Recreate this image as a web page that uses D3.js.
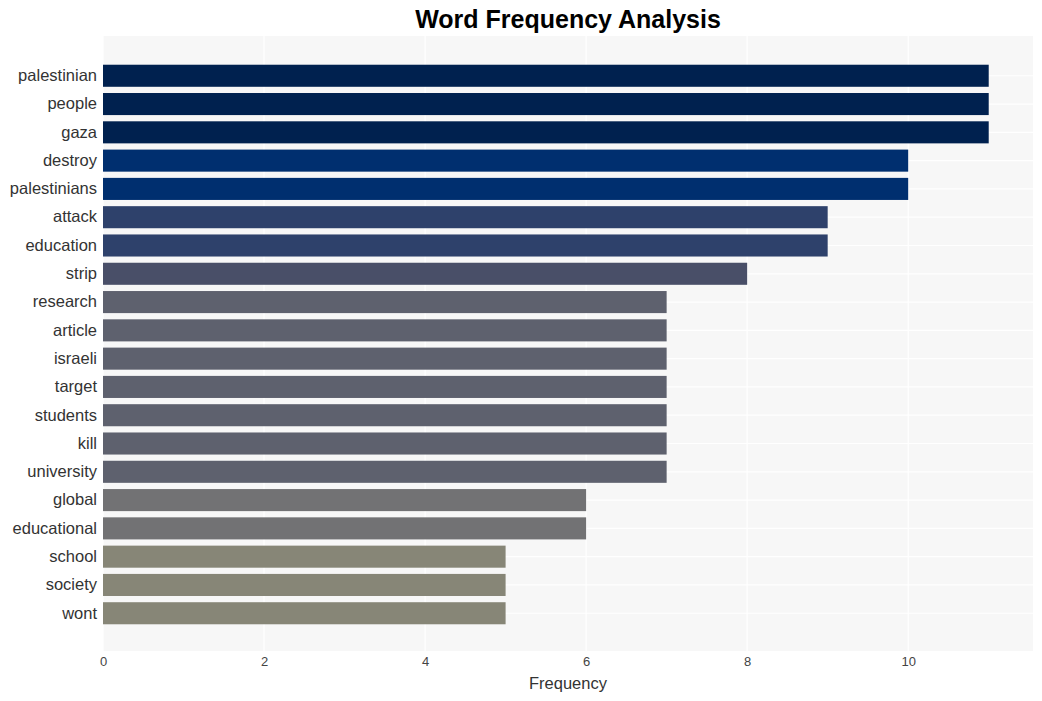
<!DOCTYPE html>
<html><head><meta charset="utf-8">
<script src="https://cdn.jsdelivr.net/npm/d3@7"></script>
<style>body{margin:0;background:#fff}svg{display:block;font-family:"Liberation Sans",Arial,sans-serif}</style>
</head><body><svg id="c" width="1042" height="701"></svg>
<script>
const words = ["palestinian","people","gaza","destroy","palestinians","attack","education","strip","research","article","israeli","target","students","kill","university","global","educational","school","society","wont"];
const freqs = [11,11,11,10,10,9,9,8,7,7,7,7,7,7,7,6,6,5,5,5];
const xTicks = [0,2,4,6,8,10];
const colorByValue = {11:"#00214f",10:"#002f6f",9:"#2e416b",8:"#494f68",7:"#5e616e",6:"#727274",5:"#878677"};

const svg = d3.select("#c");
const L=103, R=1033, T=36, B=651;
const x = d3.scaleLinear().domain([0, 11.55]).range([L, R]);
const y = d3.scaleBand().domain(words).range([T+1, B+1]).paddingInner(0.22).paddingOuter(0.98);

svg.append("rect").attr("x",L).attr("y",T).attr("width",R-L).attr("height",B-T).attr("fill","#f7f7f7");
xTicks.forEach(v=>{
  svg.append("line").attr("x1",x(v)).attr("x2",x(v)).attr("y1",T).attr("y2",B).attr("stroke","#ffffff").attr("stroke-width",1.2);
});
words.forEach(w=>{
  const cy=y(w)+y.bandwidth()/2;
  svg.append("line").attr("x1",L).attr("x2",R).attr("y1",cy).attr("y2",cy).attr("stroke","#ffffff").attr("stroke-width",1.2);
});
svg.selectAll("rect.bar").data(words).enter().append("rect").attr("class","bar")
  .attr("x",x(0)).attr("y",d=>y(d)).attr("height",y.bandwidth())
  .attr("width",(d,i)=>x(freqs[i])-x(0)).attr("fill",(d,i)=>colorByValue[freqs[i]]);

const xa = svg.append("g").attr("transform",`translate(0,${B})`).call(d3.axisBottom(x).tickValues(xTicks).tickSize(0).tickPadding(6));
xa.select(".domain").remove();
xa.selectAll("text").attr("font-size",13).attr("fill","#444").attr("font-family","Liberation Sans, Arial, sans-serif");

const ya = svg.append("g").attr("transform",`translate(${L},0)`).call(d3.axisLeft(y).tickSize(0).tickPadding(6));
ya.select(".domain").remove();
ya.selectAll("text").attr("font-size",16.5).attr("fill","#333").attr("font-family","Liberation Sans, Arial, sans-serif");

svg.append("text").attr("x",(L+R)/2).attr("y",28).attr("text-anchor","middle").attr("font-size",25).attr("font-weight","bold").attr("fill","#000").text("Word Frequency Analysis");
svg.append("text").attr("x",(L+R)/2).attr("y",689).attr("text-anchor","middle").attr("font-size",16.5).attr("fill","#333").text("Frequency");
</script></body></html>
